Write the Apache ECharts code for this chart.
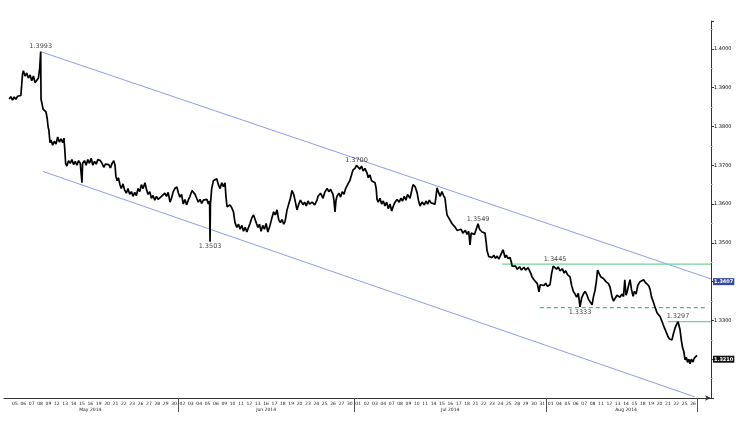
<!DOCTYPE html>
<html><head><meta charset="utf-8">
<script src="https://cdn.jsdelivr.net/npm/echarts@6/dist/echarts.min.js"></script>
<style>html,body{margin:0;padding:0;background:#fff}#c{width:752px;height:444px}</style>
</head><body><div id="c"></div>
<script>
// Trading-day tick labels (May 05 .. Aug 26, 2014)
const dayLabels = [
 '05','06','07','08','09','12','13','14','15','16','19','20','21','22','23','26','27','28','29','30',
 '02','03','04','05','06','09','10','11','12','13','16','17','18','19','20','23','24','25','26','27','30',
 '01','02','03','04','07','08','09','10','11','14','15','16','17','18','21','22','23','24','25','28','29','30','31',
 '01','04','05','06','07','08','11','12','13','14','15','18','19','20','21','22','25','26'
];
const monthNames = ['May 2014','Jun 2014','Jul 2014','Aug 2014'];
const monthLabelAt = [9, 30, 52, 73];
const monthBreaks = [20, 41, 64];

// Price path: [trading-day index, EUR/USD]
const price = [
[-0.7,1.3871],[-0.5,1.3877],[-0.3,1.3868],[-0.1,1.3876],[0.1,1.3870],[0.3,1.3878],[0.5,1.3873],[0.7,1.3880],[0.8,1.3875],
[0.9,1.3935],[1.0,1.3944],[1.2,1.3930],[1.4,1.3938],[1.6,1.3925],[1.8,1.3933],[2.0,1.3918],[2.2,1.3930],[2.4,1.3913],[2.6,1.3908],[2.8,1.3925],[2.95,1.3950],[3.07,1.3993],
[3.11,1.3870],[3.2,1.3862],[3.35,1.3845],[3.5,1.3850],[3.7,1.3838],[3.85,1.3820],[3.95,1.3800],[4.05,1.3790],[4.18,1.3758],[4.3,1.3765],[4.5,1.3752],[4.7,1.3762],[4.9,1.3755],[5.1,1.3773],[5.3,1.3760],[5.5,1.3768],[5.7,1.3758],[5.85,1.3770],[5.95,1.3740],
[6.05,1.3705],[6.2,1.3698],[6.4,1.3712],[6.6,1.3705],[6.8,1.3715],[7.0,1.3702],[7.2,1.3710],[7.4,1.3700],[7.6,1.3712],[7.8,1.3705],[7.95,1.3700],[8.0,1.3655],[8.08,1.3705],[8.3,1.3712],[8.5,1.3700],[8.7,1.3715],[8.9,1.3705],[9.1,1.3718],[9.3,1.3700],[9.5,1.3710],[9.7,1.3703],[9.9,1.3715],[10.1,1.3720],[10.2,1.3712],[10.4,1.3705],[10.6,1.3695],[10.8,1.3703],[11.0,1.3698],[11.2,1.3702],[11.4,1.3693],[11.6,1.3705],[11.8,1.3712],[11.95,1.3700],
[12.05,1.3672],[12.2,1.3660],[12.35,1.3668],[12.54,1.3650],[12.7,1.3640],[12.9,1.3652],[13.1,1.3636],[13.3,1.3628],[13.5,1.3640],[13.7,1.3625],[13.9,1.3632],[14.1,1.3620],[14.3,1.3630],[14.5,1.3622],[14.7,1.3640],[14.9,1.3632],[15.1,1.3650],[15.3,1.3640],[15.53,1.3655],[15.7,1.3638],[15.9,1.3625],[16.1,1.3632],[16.3,1.3615],[16.49,1.3622],[16.7,1.3610],[16.9,1.3620],[17.1,1.3612],[17.32,1.3608],[17.5,1.3620],[17.7,1.3615],[17.9,1.3628],[18.1,1.3620],[18.3,1.3630],[18.52,1.3605],[18.7,1.3615],[18.9,1.3632],[19.1,1.3640],[19.35,1.3644],
[19.5,1.3630],[19.7,1.3618],[19.9,1.3625],[20.1,1.3600],[20.3,1.3612],[20.5,1.3598],[20.7,1.3610],[20.9,1.3620],[21.15,1.3635],[21.3,1.3630],[21.51,1.3625],[21.7,1.3615],[21.9,1.3605],[22.1,1.3612],[22.3,1.3602],[22.5,1.3610],[22.7,1.3605],[22.94,1.3612],[23.1,1.3600],[23.25,1.3608],[23.3,1.3503],[23.35,1.3600],[23.5,1.3640],[23.7,1.3660],[23.9,1.3655],[24.1,1.3665],[24.3,1.3650],[24.5,1.3640],[24.7,1.3655],[24.9,1.3645],[25.09,1.3655],[25.2,1.3620],[25.33,1.3593],[25.5,1.3590],[25.69,1.3598],[25.9,1.3590],[26.1,1.3580],[26.28,1.3552],[26.5,1.3540],[26.7,1.3548],[26.9,1.3535],[27.1,1.3545],[27.3,1.3530],[27.5,1.3540],[27.7,1.3528],[27.9,1.3540],[28.08,1.3550],[28.3,1.3565],[28.5,1.3572],[28.67,1.3568],[28.85,1.3550],[29.03,1.3540],[29.2,1.3548],[29.4,1.3530],[29.6,1.3545],[29.8,1.3535],[30.0,1.3550],[30.2,1.3528],[30.47,1.3545],[30.7,1.3565],[30.9,1.3580],[31.1,1.3572],[31.3,1.3585],[31.5,1.3560],[31.7,1.3552],[31.9,1.3560],[32.1,1.3548],[32.26,1.3555],[32.5,1.3585],[32.7,1.3590],[32.9,1.3615],[33.09,1.3635],[33.3,1.3625],[33.5,1.3605],[33.69,1.3585],[33.9,1.3600],[34.1,1.3610],[34.41,1.3598],[34.6,1.3605],[34.8,1.3595],[35.0,1.3608],[35.2,1.3600],[35.5,1.3605],[35.8,1.3598],[36.08,1.3610],[36.2,1.3620],[36.5,1.3628],[36.8,1.3615],[37.0,1.3630],[37.28,1.3640],[37.5,1.3632],[37.7,1.3638],[37.99,1.3625],[38.1,1.3610],[38.23,1.3580],[38.35,1.3610],[38.47,1.3620],[38.7,1.3628],[38.9,1.3618],[39.1,1.3632],[39.3,1.3625],[39.5,1.3640],[39.67,1.3635],[39.78,1.3652],[40.0,1.3660],[40.2,1.3665],[40.38,1.3688],[40.62,1.3692],[40.8,1.3700],[40.98,1.3695],
[41.2,1.3690],[41.4,1.3698],[41.6,1.3685],[41.8,1.3692],[42.06,1.3680],[42.2,1.3668],[42.4,1.3675],[42.6,1.3660],[42.8,1.3665],[43.01,1.3655],[43.15,1.3640],[43.25,1.3612],[43.4,1.3605],[43.6,1.3615],[43.8,1.3600],[44.0,1.3608],[44.2,1.3595],[44.4,1.3605],[44.6,1.3588],[44.8,1.3600],[45.0,1.3582],[45.2,1.3595],[45.4,1.3605],[45.64,1.3612],[45.9,1.3605],[46.1,1.3615],[46.3,1.3608],[46.5,1.3620],[46.7,1.3610],[46.9,1.3625],[47.19,1.3615],[47.4,1.3635],[47.55,1.3650],[47.8,1.3645],[48.03,1.3630],[48.2,1.3610],[48.39,1.3595],[48.63,1.3605],[48.9,1.3598],[49.1,1.3608],[49.3,1.3600],[49.5,1.3610],[49.7,1.3603],[49.9,1.3608],[50.18,1.3600],[50.3,1.3620],[50.42,1.3642],[50.6,1.3630],[50.8,1.3620],[51.0,1.3632],[51.2,1.3622],[51.37,1.3615],[51.5,1.3590],[51.61,1.3572],[51.8,1.3565],[51.97,1.3560],[52.2,1.3550],[52.4,1.3555],[52.6,1.3540],[52.81,1.3532],[53.0,1.3528],[53.3,1.3535],[53.5,1.3525],[53.8,1.3532],[54.0,1.3522],[54.2,1.3530],[54.36,1.3495],[54.5,1.3525],[54.7,1.3530],[54.9,1.3522],[55.1,1.3535],[55.32,1.3549],[55.5,1.3535],[55.8,1.3528],[56.0,1.3532],[56.15,1.3525],[56.3,1.3500],[56.39,1.3480],[56.6,1.3465],[56.8,1.3470],[57.0,1.3462],[57.2,1.3468],[57.4,1.3460],[57.6,1.3466],[57.8,1.3458],[57.95,1.3465],[58.1,1.3470],[58.3,1.3482],[58.4,1.3475],[58.54,1.3462],[58.7,1.3468],[58.9,1.3460],[59.14,1.3462],[59.3,1.3450],[59.38,1.3440],[59.6,1.3435],[59.8,1.3440],[60.0,1.3432],[60.3,1.3438],[60.5,1.3430],[60.8,1.3437],[61.0,1.3430],[61.3,1.3436],[61.53,1.3432],[61.65,1.3420],[61.77,1.3412],[62.0,1.3405],[62.2,1.3400],[62.4,1.3395],[62.6,1.3374],[62.75,1.3392],[62.96,1.3397],[63.2,1.3390],[63.4,1.3396],[63.6,1.3388],[63.92,1.3392],
[64.1,1.3420],[64.3,1.3440],[64.52,1.3445],[64.7,1.3432],[64.9,1.3438],[65.1,1.3428],[65.4,1.3433],[65.6,1.3422],[65.8,1.3428],[66.0,1.3418],[66.31,1.3412],[66.5,1.3390],[66.7,1.3375],[66.91,1.3368],[67.1,1.3360],[67.3,1.3370],[67.5,1.3335],[67.7,1.3358],[67.9,1.3368],[68.1,1.3375],[68.34,1.3365],[68.5,1.3355],[68.7,1.3350],[68.94,1.3340],[69.1,1.3360],[69.3,1.3378],[69.45,1.3400],[69.6,1.3430],[69.8,1.3420],[70.0,1.3412],[70.3,1.3408],[70.6,1.3400],[70.9,1.3395],[71.1,1.3385],[71.33,1.3360],[71.5,1.3350],[71.7,1.3345],[71.92,1.3365],[72.1,1.3370],[72.3,1.3360],[72.5,1.3368],[72.7,1.3362],[72.85,1.3405],[73.0,1.3365],[73.12,1.3372],[73.3,1.3390],[73.48,1.3405],[73.65,1.3380],[73.84,1.3362],[74.0,1.3375],[74.2,1.3368],[74.4,1.3390],[74.67,1.3400],[74.9,1.3395],[75.1,1.3405],[75.3,1.3398],[75.51,1.3402],[75.7,1.3390],[75.87,1.3380],[76.05,1.3360],[76.22,1.3350],[76.45,1.3335],[76.7,1.3320],[76.9,1.3315],[77.06,1.3310],[77.25,1.3300],[77.42,1.3290],[77.6,1.3280],[77.8,1.3270],[78.02,1.3258],[78.2,1.3252],[78.49,1.3250],[78.65,1.3265],[78.85,1.3280],[79.0,1.3288],[79.21,1.3297],[79.35,1.3285],[79.45,1.3276],[79.6,1.3250],[79.75,1.3230],[79.9,1.3220],[80.05,1.3198],[80.2,1.3205],[80.35,1.3192],[80.5,1.3200],[80.65,1.3188],[80.8,1.3200],[81.0,1.3193],[81.15,1.3203],[81.3,1.3198],[81.48,1.3210]
];

// Trend channel end points
const channelUpper = [[3.07,1.3993],[83.15,1.3407]];
const channelLower = [[3.35,1.3684],[81.2,1.3103]];

// Horizontal levels
const levelValues = [1.3445, 1.3333, 1.3297];
const levelFrom   = [58.2, 62.7, 78.0];
const levelTo     = [83.15, 82.8, 83.15];
const levelDashed = [false, true, false];

// Annotated extremes
const annotDay = [3.07, 23.3, 40.8, 55.32, 64.52, 67.5, 79.21];
const annotVal = [1.3993, 1.3503, 1.3700, 1.3549, 1.3445, 1.3333, 1.3297];
const annotPos = ['top','bottom','top','top','top','bottom','top'];

const tiny = 'DejaVu Sans';
const chart = echarts.init(document.getElementById('c'));
const lastVal = price[price.length-1][1];
const clear = 'rgba(0,0,0,0)';

function boxLabel(text, bg){
  return {show:true, position:'end', distance:2, formatter:text, color:'#fff', backgroundColor:bg,
    fontSize:5, fontWeight:'bold', fontFamily:tiny, padding:[1,1,1,1]};
}

const series = [];
series.push({
  type:'line', name:'upper', data: channelUpper, xAxisIndex:0, yAxisIndex:0,
  showSymbol:false, silent:true, lineStyle:{color:'#6f84e0', width:0.8},
  markLine:{silent:true, symbol:'none', lineStyle:{color:clear, width:0},
    label: boxLabel(channelUpper[1][1].toFixed(4), '#34489e'),
    data:[{yAxis: channelUpper[1][1]}]}
});
series.push({
  type:'line', name:'lower', data: channelLower, xAxisIndex:0, yAxisIndex:0,
  showSymbol:false, silent:true, lineStyle:{color:'#6f84e0', width:0.8}
});
levelValues.forEach((v,i)=>{
  series.push({
    type:'line', data:[[levelFrom[i], v],[levelTo[i], v]], xAxisIndex:0, yAxisIndex:0,
    showSymbol:false, silent:true,
    lineStyle:{color: levelDashed[i] ? '#3cc087' : '#6fd497', width: 1.3,
      type: levelDashed[i] ? [4,3] : 'solid'}
  });
});
series.push({
  type:'line', name:'EURUSD', data: price, xAxisIndex:0, yAxisIndex:0,
  showSymbol:false, lineStyle:{color:'#000', width:1.7}, z:5,
  markLine:{silent:true, symbol:'none', lineStyle:{color:clear, width:0},
    label: boxLabel(lastVal.toFixed(4), '#111'),
    data:[{yAxis: lastVal}]}
});
series.push({
  type:'scatter', xAxisIndex:0, yAxisIndex:0, symbolSize:1, itemStyle:{color:clear}, z:6,
  data: annotDay.map((d,i)=>({value:[d, annotVal[i]],
    label:{show:true, position: annotPos[i], distance:1, formatter: annotVal[i].toFixed(4),
      color:'#111', fontSize:6.5, fontFamily:tiny}}))
});

chart.setOption({
  animation:false,
  backgroundColor:'#fff',
  grid:[
    {left:4, right:41, top:21, bottom:46},
    {left:10.8, right:54.8, top:21, bottom:46}
  ],
  xAxis:[
    {type:'value', gridIndex:0, min:-1.314, max:83.15, position:'bottom',
     axisLine:{show:true, onZero:false, lineStyle:{color:'#333', width:1}, symbol:['none','arrow'], symbolSize:[4,6]},
     axisTick:{show:false}, axisLabel:{show:false}, splitLine:{show:false}},
    {type:'category', gridIndex:1, data: dayLabels, boundaryGap:true, position:'bottom',
     axisLine:{show:false, onZero:false},
     axisTick:{show:true, interval:(i)=>monthBreaks.includes(i), length:14, lineStyle:{color:'#555', width:1}},
     axisLabel:{interval:0, fontSize:4.5, margin:3, color:'#222', fontFamily:tiny}},
    {type:'category', gridIndex:1, data: dayLabels, boundaryGap:true, position:'bottom',
     axisLine:{show:false, onZero:false}, axisTick:{show:false},
     axisLabel:{interval:0, fontSize:4.5, margin:9, color:'#222', fontFamily:tiny,
       formatter:(v,i)=>{const k = monthLabelAt.indexOf(i); return k>=0 ? monthNames[k] : '';}}}
  ],
  yAxis:[
    {type:'value', gridIndex:0, position:'right', min:1.31, max:1.4072, interval:0.01,
     axisLine:{show:true, onZero:false, lineStyle:{color:'#333'}},
     axisTick:{show:true, length:3, lineStyle:{color:'#333'}},
     minorTick:{show:true, splitNumber:2, length:2, lineStyle:{color:'#bbb'}},
     axisLabel:{formatter:v=>v.toFixed(4), fontSize:5, margin:3, color:'#000', fontFamily:tiny,
       showMinLabel:false, showMaxLabel:false},
     splitLine:{show:false}},
    {type:'value', gridIndex:1, show:false, axisLine:{onZero:false}}
  ],
  series: series
});
</script>
</body></html>
